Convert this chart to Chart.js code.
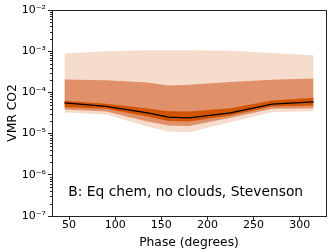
<!DOCTYPE html>
<html lang="en">
<head>
  <meta charset="UTF-8">
  <title>VMR CO2 vs phase</title>
  <script src="https://cdn.jsdelivr.net/npm/chart.js@4.4.1/dist/chart.umd.min.js"></script>
  <style>
    html, body { margin: 0; padding: 0; background: #fff; }
    #wrap { width: 332px; height: 252px; }
  </style>
</head>
<body>
  <div id="wrap"><canvas id="co2-chart"></canvas></div>
  <script>
    // phases (degrees) and CO2 volume mixing ratios
    const phases = [45, 90, 135, 157.5, 180, 225, 270, 315];
    const median = [5.6e-5, 4.6e-5, 3.2e-5, 2.5e-5, 2.4e-5, 3.2e-5, 5.2e-5, 5.9e-5];
    const outerHigh = [8.8e-4, 1.0e-3, 1.06e-3, 1.06e-3, 1.05e-3, 1.02e-3, 9.1e-4, 8.0e-4];
    const outerLow = [3.25e-5, 2.9e-5, 1.48e-5, 1.12e-5, 1.08e-5, 1.89e-5, 3.3e-5, 3.5e-5];
    const midHigh = [2.07e-4, 1.96e-4, 1.75e-4, 1.48e-4, 1.54e-4, 1.78e-4, 2.04e-4, 2.16e-4];
    const midLow = [3.85e-5, 3.44e-5, 1.96e-5, 1.57e-5, 1.52e-5, 2.42e-5, 4.0e-5, 4.14e-5];
    const innerHigh = [6.3e-5, 5.3e-5, 4.07e-5, 3.5e-5, 3.44e-5, 4.14e-5, 6.4e-5, 7.4e-5];
    const innerLow = [4.38e-5, 4.0e-5, 2.6e-5, 2.02e-5, 1.96e-5, 2.75e-5, 4.56e-5, 4.82e-5];
    const xTicks = [50, 100, 150, 200, 250, 300];
    const yExponents = [-7, -6, -5, -4, -3, -2];
    const label = 'B: Eq chem, no clouds, Stevenson';

    const FONT = "'DejaVu Sans', sans-serif";
    const sup = { '-': '\u207B', '0': '\u2070', '1': '\u00B9', '2': '\u00B2', '3': '\u00B3',
      '4': '\u2074', '5': '\u2075', '6': '\u2076', '7': '\u2077', '8': '\u2078', '9': '\u2079' };
    const toSup = s => String(s).split('').map(c => sup[c]).join('');

    const pts = arr => phases.map((p, i) => ({ x: p, y: arr[i] }));

    function band(arr, color, order, fill) {
      return {
        data: pts(arr),
        backgroundColor: color,
        borderWidth: 0,
        pointRadius: 0,
        fill: fill,
        order: order,
      };
    }

    // frame, minor log ticks and the in-plot label
    const extras = {
      id: 'extras',
      afterDraw(chart) {
        const ctx = chart.ctx;
        const a = chart.chartArea;
        const y = chart.scales.y;
        ctx.save();
        ctx.strokeStyle = '#222';
        ctx.lineWidth = 1;
        y.ticks.forEach(t => {
          if (t.major) return;
          const py = Math.round(y.getPixelForValue(t.value)) + 0.5;
          ctx.beginPath();
          ctx.moveTo(a.left, py);
          ctx.lineTo(a.left - 2, py);
          ctx.stroke();
        });
        ctx.strokeRect(Math.round(a.left) + 0.5, Math.round(a.top) + 0.5,
          Math.round(a.right - a.left), Math.round(a.bottom - a.top));
        ctx.fillStyle = '#000';
        ctx.font = '13.8px ' + FONT;
        ctx.textAlign = 'center';
        ctx.textBaseline = 'middle';
        ctx.fillText(label, a.left + 0.488 * (a.right - a.left), a.top + 0.884 * (a.bottom - a.top));
        ctx.restore();
      }
    };

    const ctx = document.getElementById('co2-chart').getContext('2d');
    new Chart(ctx, {
      type: 'line',
      data: {
        datasets: [
          band(outerHigh, '#f6dccd', 3, '+1'),
          band(outerLow, '#f6dccd', 3, false),
          band(midHigh, '#e0916a', 2, '+1'),
          band(midLow, '#e0916a', 2, false),
          band(innerHigh, '#d25400', 1, '+1'),
          band(innerLow, '#d25400', 1, false),
          {
            data: pts(median),
            borderColor: '#000',
            borderWidth: 1.3,
            pointRadius: 0,
            fill: false,
            order: 0,
          },
        ],
      },
      options: {
        responsive: true,
        maintainAspectRatio: false,
        animation: false,
        events: [],
        layout: { padding: { top: 10, right: 6, left: 0, bottom: 0 } },
        plugins: { legend: { display: false }, tooltip: { enabled: false } },
        scales: {
          x: {
            type: 'linear',
            min: 31.5,
            max: 328.5,
            afterBuildTicks: s => { s.ticks = xTicks.map(v => ({ value: v })); },
            afterFit: s => { s.height = 36; },
            grid: { drawOnChartArea: false, tickLength: 4, color: '#222' },
            border: { display: false },
            ticks: { color: '#000', font: { family: FONT, size: 11 }, padding: -1, maxRotation: 0, autoSkip: false },
            title: { display: true, text: 'Phase (degrees)', color: '#000', font: { family: FONT, size: 12.3 }, padding: { top: 0, bottom: 2 } },
          },
          y: {
            type: 'logarithmic',
            min: 1e-7,
            max: 1e-2,
            afterBuildTicks: s => {
              const t = [];
              yExponents.forEach(e => {
                t.push({ value: Math.pow(10, e), major: true });
                if (e < -2) {
                  for (let k = 2; k <= 9; k++) t.push({ value: k * Math.pow(10, e), major: false });
                }
              });
              s.ticks = t;
            },
            afterFit: s => { s.width = 52; },
            grid: {
              drawOnChartArea: false,
              tickLength: 4,
              tickColor: c => (c.tick && c.tick.major ? '#222' : 'rgba(0,0,0,0)'),
            },
            border: { display: false },
            ticks: {
              color: '#000',
              font: { family: FONT, size: 11 },
              padding: 2,
              autoSkip: false,
              callback: v => {
                const e = Math.round(Math.log10(v));
                return Math.abs(Math.pow(10, e) - v) / v < 1e-6 ? '10' + toSup(e) : '';
              },
            },
            title: { display: true, text: 'VMR CO2', color: '#000', font: { family: FONT, size: 12.3 }, padding: { top: 5, bottom: 0 } },
          },
        },
      },
      plugins: [extras],
    });
  </script>
</body>
</html>
